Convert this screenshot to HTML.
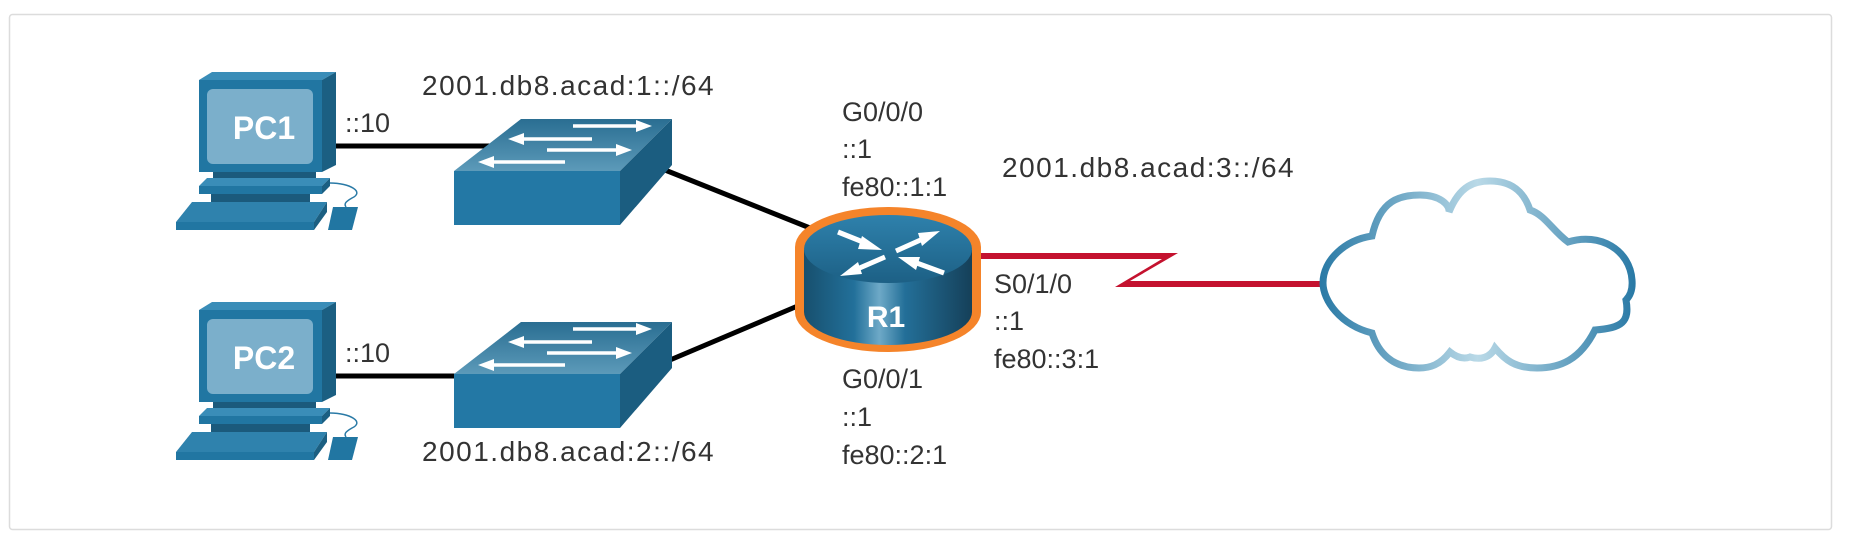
<!DOCTYPE html>
<html><head><meta charset="utf-8"><style>
html,body{margin:0;padding:0;background:#fff;}
svg{display:block;}
text{font-family:"Liberation Sans",sans-serif;}
.l{font-size:27px;fill:#333;}
.n{font-size:28px;fill:#333;letter-spacing:1.5px;}
</style></head><body>
<svg width="1856" height="548" viewBox="0 0 1856 548" xmlns="http://www.w3.org/2000/svg">
<defs>
<linearGradient id="cg" x1="1321" y1="0" x2="1634" y2="0" gradientUnits="userSpaceOnUse">
<stop offset="0" stop-color="#2a7aa6"/><stop offset="0.5" stop-color="#b9d9e7"/><stop offset="1" stop-color="#2a7aa6"/></linearGradient>
<linearGradient id="rb" x1="803" y1="0" x2="973" y2="0" gradientUnits="userSpaceOnUse">
<stop offset="0" stop-color="#174f6d"/><stop offset="0.3" stop-color="#22709a"/><stop offset="0.45" stop-color="#6ea9c7"/><stop offset="0.6" stop-color="#236f98"/><stop offset="1" stop-color="#153f58"/></linearGradient>
<linearGradient id="rt" x1="0" y1="213" x2="0" y2="285" gradientUnits="userSpaceOnUse">
<stop offset="0" stop-color="#2f82ad"/><stop offset="1" stop-color="#1c5f84"/></linearGradient>
<linearGradient id="st" x1="0" y1="119" x2="0" y2="171" gradientUnits="userSpaceOnUse">
<stop offset="0" stop-color="#2a6e92"/><stop offset="1" stop-color="#5c9ab9"/></linearGradient>
<g id="pc">
<polygon points="199,80 212,72 336,72 322,80" fill="#3a8db8"/>
<rect x="199" y="80" width="123" height="92" fill="#2176a2"/>
<polygon points="322,80 336,72 336,165 322,172" fill="#1b5f82"/>
<rect x="207" y="89" width="106" height="75" rx="6" fill="#7bafcb"/>
<rect x="213" y="172" width="103" height="6" fill="#1b5a7c"/>
<polygon points="207,178 330,178 322,186 199,186" fill="#3a8db8"/>
<rect x="199" y="186" width="123" height="8" fill="#2176a2"/>
<polygon points="322,186 330,178 330,186 322,194" fill="#1b5f82"/>
<rect x="211" y="194" width="99" height="8" fill="#1b5a7c"/>
<polygon points="192,202 327,202 314,222 176,222" fill="#2f82ad"/>
<polygon points="176,222 314,222 314,230 176,230" fill="#2176a2"/>
<polygon points="314,222 327,202 327,212 314,230" fill="#1b5f82"/>
<path d="M330,183 C350,183 365,192 352,198 C345,202 344,204 346,207" fill="none" stroke="#2a7aa6" stroke-width="1.5"/>
<polygon points="333,207 358,207 352,230 328,230" fill="#2176a2"/>
</g>
<g id="sw">
<polygon points="454,171 521,119 672,119 620,171" fill="url(#st)"/>
<rect x="454" y="171" width="166" height="54" fill="#2378a5"/>
<polygon points="620,171 672,119 672,165 620,225" fill="#1b5d80"/>
<g stroke="#fff" stroke-width="3.5" fill="#fff">
<line x1="573" y1="126" x2="640" y2="126"/><polygon points="652,126 636,120 636,132" stroke="none"/>
<line x1="592" y1="139" x2="520" y2="139"/><polygon points="508,139 524,133 524,145" stroke="none"/>
<line x1="547" y1="150" x2="620" y2="150"/><polygon points="632,150 616,144 616,156" stroke="none"/>
<line x1="565" y1="162" x2="490" y2="162"/><polygon points="478,162 494,156 494,168" stroke="none"/>
</g>
</g>
</defs>
<rect x="9.5" y="14.5" width="1822" height="515" rx="3" fill="#fff" stroke="#dcdcdc" stroke-width="1.5"/>

<line x1="336" y1="146" x2="490" y2="146" stroke="#000" stroke-width="5"/>
<line x1="336" y1="376" x2="460" y2="376" stroke="#000" stroke-width="5"/>
<line x1="665" y1="170" x2="815" y2="230" stroke="#000" stroke-width="5"/>
<line x1="670" y1="360" x2="800" y2="305" stroke="#000" stroke-width="5"/>
<polygon points="975,253 1178,253 1130,281 1322,281 1322,287 1115,287 1162,259 975,259" fill="#c4122f"/>

<use href="#pc"/>
<use href="#pc" y="230"/>
<use href="#sw"/>
<use href="#sw" y="203"/>

<text x="264" y="139" font-size="32" font-weight="bold" fill="#fff" text-anchor="middle">PC1</text>
<text x="264" y="369" font-size="32" font-weight="bold" fill="#fff" text-anchor="middle">PC2</text>

<path d="M795,247 A93,40 0 0 1 981,247 L981,312 A93,40 0 0 1 795,312 Z" fill="#f5842a"/>
<path d="M804,250 L804,312 A84,33 0 0 0 972,312 L972,250 Z" fill="url(#rb)"/>
<ellipse cx="888" cy="249" rx="84" ry="34" fill="url(#rt)"/>
<g fill="#fff" stroke="#fff" stroke-width="5">
<line x1="838" y1="232" x2="868" y2="244"/><polygon points="882,250 862,236 858,249" stroke="none"/>
<line x1="896" y1="251" x2="925" y2="238"/><polygon points="940,231 918,233 922,246" stroke="none"/>
<line x1="885" y1="257" x2="855" y2="270"/><polygon points="840,276 862,274 858,262" stroke="none"/>
<line x1="944" y1="273" x2="914" y2="262"/><polygon points="898,257 916,270 920,257" stroke="none"/>
</g>
<text x="886" y="327" font-size="30" font-weight="bold" fill="#fff" text-anchor="middle">R1</text>

<path d="M1372,236 C1380,200 1400,195 1420,195 C1440,195 1450,205 1449,212 C1460,185 1475,181 1490,181 C1515,181 1525,195 1530,210 C1545,215 1552,230 1568,242 C1600,232 1630,250 1632,280 C1633,292 1628,298 1626,300 C1630,322 1622,328 1595,330 C1580,360 1560,368 1537,368 C1515,368 1505,360 1495,348 C1490,358 1480,360 1470,357 C1462,360 1455,356 1450,352 C1440,365 1430,368 1419,368 C1392,368 1378,352 1372,333 C1340,325 1323,300 1323,283 C1323,260 1345,240 1372,236 Z" fill="#fff" stroke="url(#cg)" stroke-width="7"/>

<text class="n" x="422" y="95">2001.db8.acad:1::/64</text>
<text class="n" x="422" y="461">2001.db8.acad:2::/64</text>
<text class="n" x="1002" y="177">2001.db8.acad:3::/64</text>
<text class="l" x="345" y="132">::10</text>
<text class="l" x="345" y="362">::10</text>
<text class="l" x="842" y="121">G0/0/0</text>
<text class="l" x="842" y="158">::1</text>
<text class="l" x="842" y="196">fe80::1:1</text>
<text class="l" x="842" y="388">G0/0/1</text>
<text class="l" x="842" y="426">::1</text>
<text class="l" x="842" y="464">fe80::2:1</text>
<text class="l" x="994" y="293">S0/1/0</text>
<text class="l" x="994" y="330">::1</text>
<text class="l" x="994" y="368">fe80::3:1</text>
</svg>
</body></html>
